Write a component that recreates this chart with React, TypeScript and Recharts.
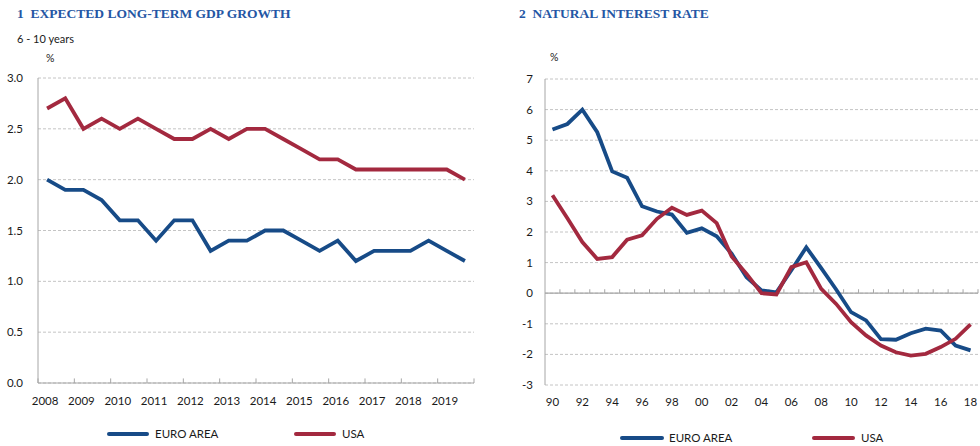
import React from 'react';
import { LineChart, Line, XAxis, YAxis, CartesianGrid, ReferenceLine } from 'recharts';

// chart 1: expected long-term GDP growth, two surveys a year
const surveyPeriods = [
  '2008 H1', '2008 H2', '2009 H1', '2009 H2', '2010 H1', '2010 H2', '2011 H1', '2011 H2',
  '2012 H1', '2012 H2', '2013 H1', '2013 H2', '2014 H1', '2014 H2', '2015 H1', '2015 H2',
  '2016 H1', '2016 H2', '2017 H1', '2017 H2', '2018 H1', '2018 H2', '2019 H1', '2019 H2',
];
const gdpEuro = [2.0, 1.9, 1.9, 1.8, 1.6, 1.6, 1.4, 1.6, 1.6, 1.3, 1.4, 1.4, 1.5, 1.5, 1.4, 1.3, 1.4, 1.2, 1.3, 1.3, 1.3, 1.4, 1.3, 1.2];
const gdpUsa = [2.7, 2.8, 2.5, 2.6, 2.5, 2.6, 2.5, 2.4, 2.4, 2.5, 2.4, 2.5, 2.5, 2.4, 2.3, 2.2, 2.2, 2.1, 2.1, 2.1, 2.1, 2.1, 2.1, 2.0];
const gdpYearLabels = ['2008', '2009', '2010', '2011', '2012', '2013', '2014', '2015', '2016', '2017', '2018', '2019'];
const gdpYTicks = [0, 0.5, 1, 1.5, 2, 2.5, 3];

// chart 2: natural interest rate, annual
const rateYears = [
  '90', '91', '92', '93', '94', '95', '96', '97', '98', '99', '00', '01', '02', '03', '04',
  '05', '06', '07', '08', '09', '10', '11', '12', '13', '14', '15', '16', '17', '18',
];
const rateEuro = [5.35, 5.53, 6.0, 5.26, 3.98, 3.77, 2.84, 2.67, 2.57, 1.97, 2.12, 1.86, 1.29, 0.52, 0.09, 0.03, 0.75, 1.5, 0.82, 0.12, -0.62, -0.89, -1.5, -1.52, -1.31, -1.16, -1.22, -1.71, -1.87];
const rateUsa = [3.2, 2.45, 1.67, 1.12, 1.18, 1.75, 1.89, 2.43, 2.79, 2.56, 2.7, 2.29, 1.2, 0.63, 0.0, -0.04, 0.85, 1.01, 0.14, -0.35, -0.95, -1.38, -1.71, -1.93, -2.04, -1.98, -1.76, -1.49, -1.02];
const rateYTicks = [-3, -2, -1, 0, 1, 2, 3, 4, 5, 6, 7];

const BLUE = '#174b87';
const RED = '#a3293f';
const AXIS = '#a6a6a6';
const GRID = '#c4c4c4';
const FONT = 'Lato, "Open Sans", sans-serif';
const TITLE_FONT = '"Liberation Serif", "DejaVu Serif", serif';

const gdpData = surveyPeriods.map((p, i) => ({ period: p, x: i + 0.5, euro: gdpEuro[i], usa: gdpUsa[i] }));
const rateData = rateYears.map((y, i) => ({ year: y, x: i + 0.5, euro: rateEuro[i], usa: rateUsa[i] }));

const gdpXTicks = gdpYearLabels.map((_, k) => k * 2 + 0.5);
const rateXTicks = rateYears.map((_, i) => i + 0.5).filter((_, i) => i % 2 === 0);

const tickStyle = { fontSize: 11.5, fill: '#1a1a1a', fontFamily: FONT };

const App = () => {
  return (
    <div style={{ position: 'absolute', left: 0, top: 0, width: 980, height: 446, background: '#fff', overflow: 'hidden' }}>
      <div style={{ position: 'absolute', left: 0, top: 0 }}>
        <LineChart width={490} height={446} data={gdpData} margin={{ top: 78, right: 16, bottom: 33, left: 8 }}>
          <CartesianGrid vertical={false} stroke={GRID} strokeDasharray="3 2" />
          <XAxis
            type="number"
            dataKey="x"
            domain={[0, 24]}
            ticks={gdpXTicks}
            tickFormatter={(v: number) => gdpYearLabels[Math.round((v - 0.5) / 2)]}
            height={30}
            tickLine={false}
            tickSize={0}
            tickMargin={14}
            axisLine={{ stroke: AXIS }}
            tick={{ ...tickStyle, dx: -2 }}
            interval={0}
          />
          <YAxis
            domain={[0, 3]}
            ticks={gdpYTicks}
            tickFormatter={(v: number) => v.toFixed(1)}
            width={30}
            tickLine={false}
            tickSize={0}
            tickMargin={15}
            axisLine={{ stroke: AXIS }}
            tick={tickStyle}
            interval={0}
          />
          {gdpYearLabels.concat(['end']).map((_, k) => (
            <ReferenceLine key={`gt${k}`} segment={[{ x: k * 2, y: 0 }, { x: k * 2, y: 0.045 }]} stroke={AXIS} />
          ))}
          <Line type="linear" dataKey="usa" name="USA" stroke={RED} strokeWidth={3.8} dot={false} isAnimationActive={false} />
          <Line type="linear" dataKey="euro" name="EURO AREA" stroke={BLUE} strokeWidth={3.8} dot={false} isAnimationActive={false} />
        </LineChart>
      </div>

      <div style={{ position: 'absolute', left: 490, top: 0 }}>
        <LineChart width={490} height={446} data={rateData} margin={{ top: 79, right: 2, bottom: 31, left: 25 }}>
          <CartesianGrid vertical={false} stroke={GRID} strokeDasharray="3 2" />
          <XAxis
            type="number"
            dataKey="x"
            domain={[0, 29]}
            ticks={rateXTicks}
            tickFormatter={(v: number) => rateYears[Math.round(v - 0.5)]}
            height={30}
            tickLine={false}
            tickSize={0}
            tickMargin={12.5}
            axisLine={false}
            tick={tickStyle}
            interval={0}
          />
          <YAxis
            domain={[-3, 7]}
            ticks={rateYTicks}
            width={30}
            tickLine={false}
            tickSize={0}
            tickMargin={12}
            axisLine={{ stroke: AXIS }}
            tick={tickStyle}
            interval={0}
          />
          <ReferenceLine y={0} stroke={AXIS} strokeWidth={1.2} />
          {rateYears.map((_, i) => (
            <ReferenceLine key={`rt${i}`} segment={[{ x: i + 1, y: 0 }, { x: i + 1, y: 0.13 }]} stroke={AXIS} />
          ))}
          <Line type="linear" dataKey="euro" name="EURO AREA" stroke={BLUE} strokeWidth={3.8} dot={false} isAnimationActive={false} />
          <Line type="linear" dataKey="usa" name="USA" stroke={RED} strokeWidth={3.8} dot={false} isAnimationActive={false} />
        </LineChart>
      </div>

      <svg width={980} height={446} style={{ position: 'absolute', left: 0, top: 0, pointerEvents: 'none' }}>
        <text x={17} y={18.3} fontFamily={TITLE_FONT} fontWeight="bold" fontSize={13.5} fill="#2456a4" style={{ whiteSpace: 'pre' }}>
          1  EXPECTED LONG-TERM GDP GROWTH
        </text>
        <text x={519} y={18.3} fontFamily={TITLE_FONT} fontWeight="bold" fontSize={13.5} fill="#2456a4" style={{ whiteSpace: 'pre' }}>
          2  NATURAL INTEREST RATE
        </text>
        <text x={17} y={42.5} fontFamily={FONT} fontSize={11} fill="#1a1a1a">6 - 10 years</text>
        <text x={46} y={61.5} fontFamily={FONT} fontSize={10.5} fill="#1a1a1a">%</text>
        <text x={550} y={61} fontFamily={FONT} fontSize={10.5} fill="#1a1a1a">%</text>

        <line x1={109} y1={434} x2={147} y2={434} stroke={BLUE} strokeWidth={4} strokeLinecap="round" />
        <text x={155} y={438.3} fontFamily={FONT} fontSize={11.5} fill="#1a1a1a">EURO AREA</text>
        <line x1={296} y1={434} x2={334} y2={434} stroke={RED} strokeWidth={4} strokeLinecap="round" />
        <text x={342} y={438.3} fontFamily={FONT} fontSize={11.5} fill="#1a1a1a">USA</text>

        <line x1={622} y1={438} x2={662} y2={438} stroke={BLUE} strokeWidth={4} strokeLinecap="round" />
        <text x={669} y={442.3} fontFamily={FONT} fontSize={11.5} fill="#1a1a1a">EURO AREA</text>
        <line x1={814} y1={438} x2={853} y2={438} stroke={RED} strokeWidth={4} strokeLinecap="round" />
        <text x={861} y={442.3} fontFamily={FONT} fontSize={11.5} fill="#1a1a1a">USA</text>
      </svg>
    </div>
  );
};

export default App;
